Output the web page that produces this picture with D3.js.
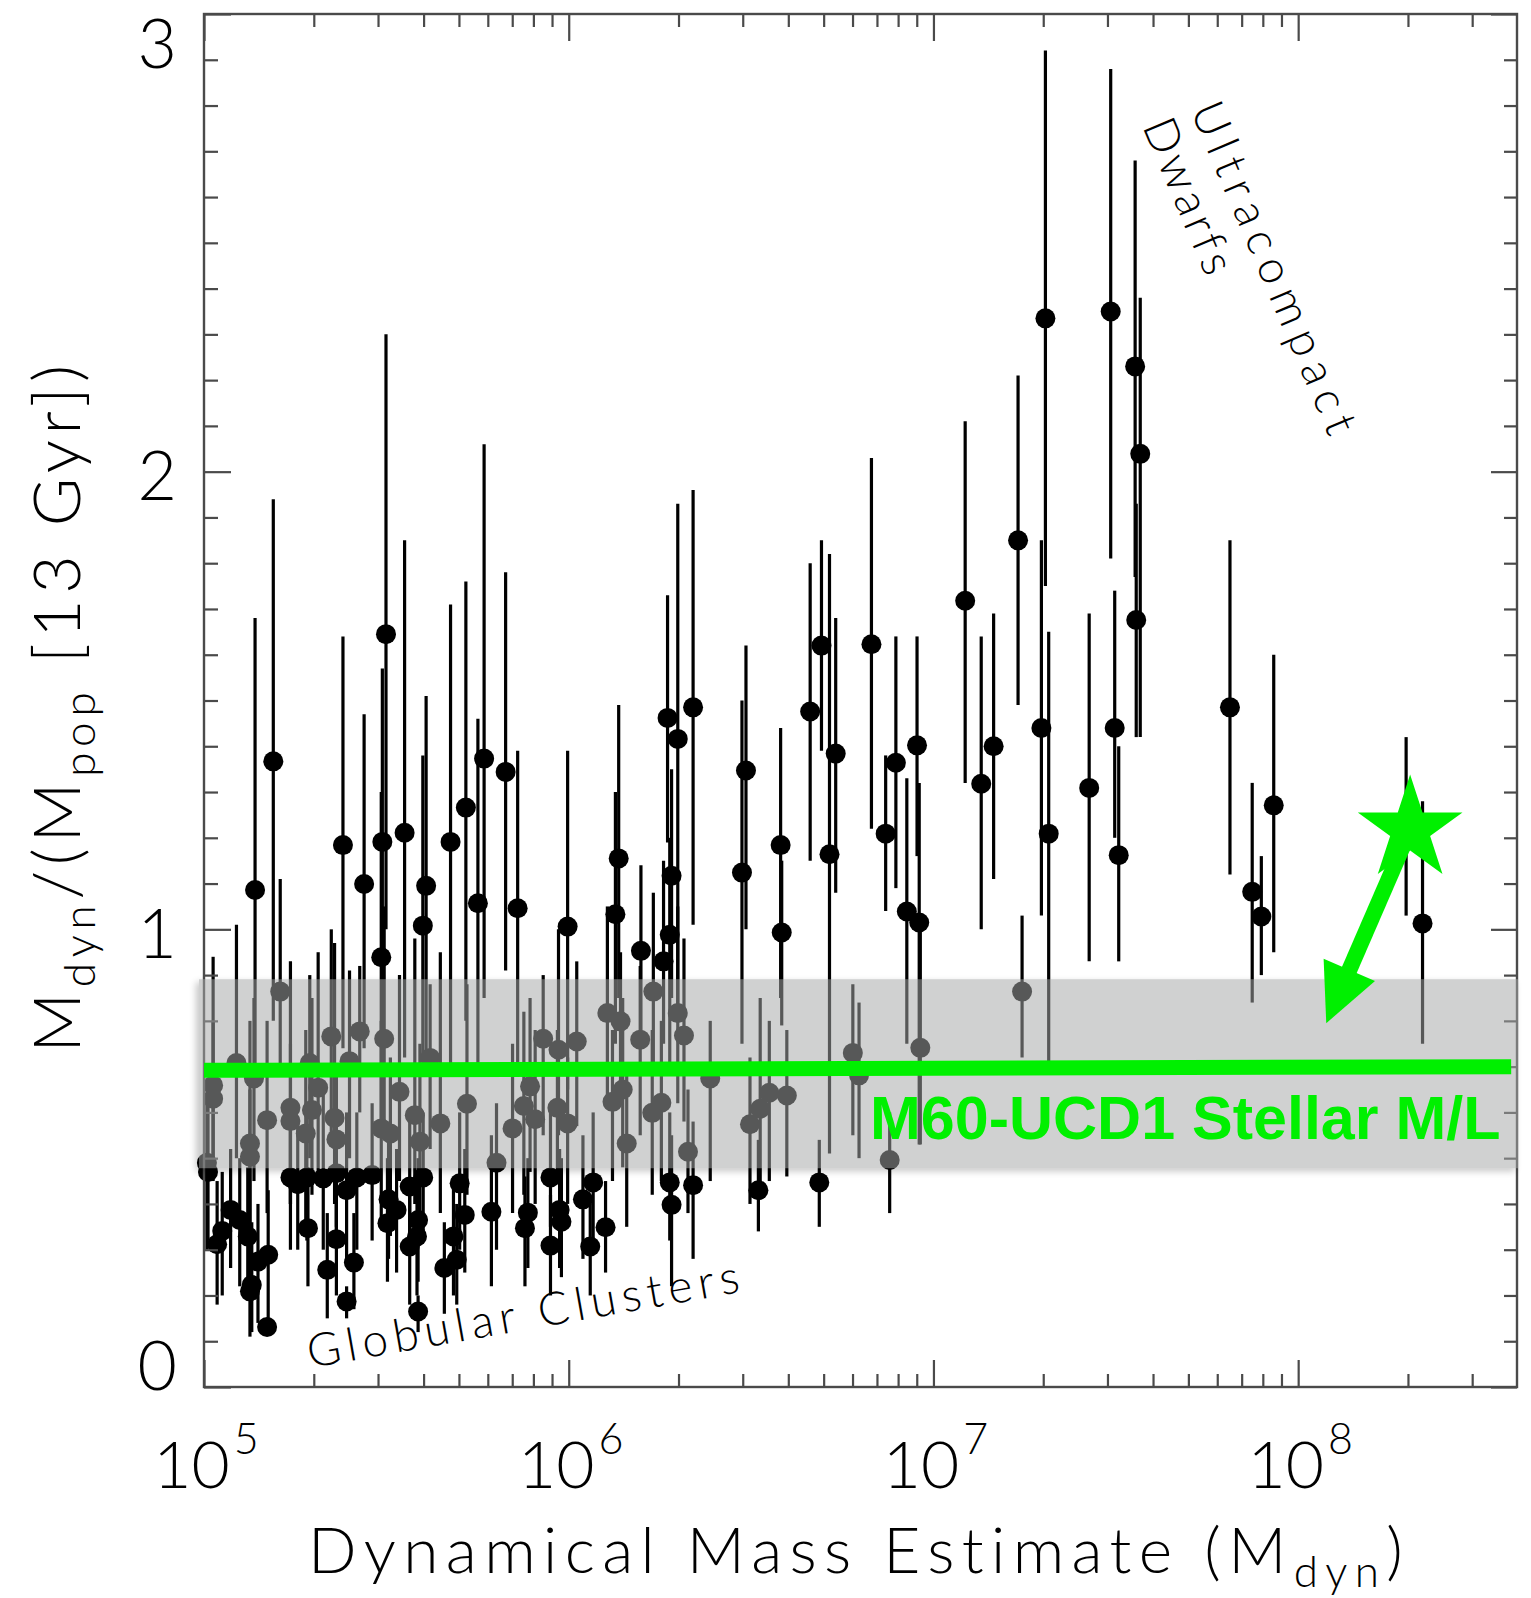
<!DOCTYPE html>
<html>
<head>
<meta charset="utf-8">
<script src="https://cdn.jsdelivr.net/npm/d3@7"></script>
<style>
  body { margin: 0; background: #fff; }
  svg { display: block; }
  .thin { font-family: Lato, "Open Sans", "DejaVu Sans", sans-serif; font-weight: 300; fill: #000; }
</style>
</head>
<body>
<svg id="chart" width="1531" height="1598"></svg>
<script>
// ---- data: log10 dynamical mass, Mdyn/Mpop ratio, and error-bar bounds ----
// objects with ratios well above the population band
const highLogMass = [5.14,5.19,5.381,5.439,5.499,5.489,5.486,5.55,5.609,5.60,5.676,5.718,5.768,5.751,5.827,5.86,5.997,6.137,6.128,6.198,
  6.26,6.271,6.299,6.341,6.282,6.277,6.486,6.475,6.581,6.584,6.662,6.693,6.732,6.715,6.83,6.897,6.869,6.955,6.927,6.961,
  7.087,7.131,7.165,7.232,7.307,7.296,7.316,7.427,7.486,7.497,7.508,7.553,7.567,7.556,7.813,7.874,7.899,7.933,8.341,8.296];
const highRatio = [1.086,1.367,1.184,1.099,1.645,1.191,0.939,1.211,1.095,1.008,1.191,1.266,1.373,1.057,1.344,1.046,1.006,1.155,1.033,0.953,
  0.930,1.462,1.416,1.485,1.117,0.988,1.347,1.124,1.184,0.993,1.476,1.62,1.384,1.164,1.623,1.364,1.209,1.402,1.039,1.015,
  1.718,1.318,1.40,1.85,2.335,1.44,1.209,1.309,2.35,1.44,1.162,2.23,2.039,1.676,1.485,1.082,1.028,1.271,1.013,1.229];
const highLow = [0.69,0.80,0.74,0.74,1.00,0.75,0.55,0.72,0.70,0.72,0.70,0.80,0.85,0.70,0.91,0.70,0.65,0.85,0.75,0.75,
  0.75,1.19,0.80,1.01,0.85,0.70,1.00,0.75,0.85,0.79,1.15,1.39,1.08,0.51,1.22,1.09,1.04,1.16,0.75,0.53,
  1.32,1.00,1.11,1.49,1.75,1.03,0.71,0.93,1.81,1.20,0.93,1.77,1.42,1.42,1.12,0.84,0.90,0.95,0.75,1.03];
const highHigh = [1.68,1.94,1.64,1.47,2.30,1.57,1.30,1.85,1.51,1.38,1.71,1.76,2.06,1.46,1.78,1.39,1.39,1.49,1.30,1.14,
  1.15,1.73,1.93,1.96,1.35,1.20,1.62,1.50,1.44,1.15,1.80,1.85,1.68,1.82,2.03,1.64,1.38,1.64,1.33,1.32,
  2.11,1.64,1.69,2.21,2.92,1.85,1.65,1.69,2.88,1.74,1.40,2.68,2.38,1.93,1.85,1.32,1.16,1.60,1.28,1.42];

// objects whose ratios fall inside the population band
const midLogMass = [5.209,5.349,5.427,5.494,5.089,5.025,5.025,5.137,5.173,5.237,5.237,5.296,5.313,5.279,5.358,5.399,5.126,5.126,5.536,5.486,
  5.511,5.578,5.648,5.592,5.620,5.721,5.802,5.930,5.972,6.022,6.106,6.142,6.232,6.196,6.299,6.316,6.388,5.846,5.877,5.894,
  5.908,5.969,5.997,6.120,6.148,6.159,6.229,6.254,6.327,5.008,6.497,6.525,6.550,6.598,6.779,6.796,6.964,6.880,7.243,5.290,5.363];
const midRatio = [0.864,0.766,0.777,0.761,0.708,0.659,0.630,0.674,0.583,0.610,0.581,0.605,0.654,0.554,0.588,0.712,0.532,0.503,0.645,0.565,
  0.554,0.594,0.576,0.536,0.719,0.619,0.490,0.761,0.737,0.755,0.817,0.799,0.864,0.759,0.817,0.768,0.674,0.565,0.614,0.657,
  0.585,0.610,0.576,0.623,0.650,0.532,0.599,0.621,0.514,0.490,0.574,0.608,0.643,0.637,0.730,0.681,0.741,0.496,0.864,0.708,0.541];
const midLow = [0.70,0.55,0.60,0.55,0.50,0.50,0.45,0.45,0.38,0.40,0.40,0.42,0.45,0.33,0.40,0.50,0.30,0.28,0.45,0.35,
  0.33,0.40,0.38,0.33,0.52,0.42,0.30,0.55,0.55,0.57,0.62,0.62,0.70,0.55,0.62,0.58,0.45,0.38,0.42,0.47,
  0.40,0.45,0.40,0.45,0.48,0.35,0.42,0.45,0.38,0.30,0.40,0.42,0.45,0.46,0.55,0.50,0.53,0.38,0.72,0.50,0.35];
const midHigh = [1.11,1.00,0.92,1.05,1.01,0.94,0.80,0.85,0.80,0.93,0.75,0.85,0.95,0.78,0.97,0.91,0.80,0.65,0.90,0.80,
  0.72,0.98,0.95,0.75,0.88,0.88,0.62,0.90,1.00,0.93,1.05,0.95,1.08,0.92,1.05,0.98,0.80,0.75,0.82,0.85,
  0.78,0.78,0.72,0.78,0.85,0.70,0.78,0.80,0.65,0.62,0.72,0.85,0.80,0.78,0.88,0.84,1.02,0.60,1.03,0.90,0.70];

// low-ratio globular clusters below the band
const lowLogMass = [5.073,5.098,5.050,5.036,5.120,5.176,5.148,5.131,5.126,5.173,5.237,5.282,5.327,5.363,5.419,5.461,5.285,5.338,5.391,5.363,
  5.411,5.506,5.503,5.528,5.564,5.601,5.587,5.584,5.564,5.659,5.693,5.587,5.701,5.715,5.684,5.788,5.888,5.880,5.950,5.975,
  5.980,5.950,6.039,6.067,6.101,6.059,6.277,6.282,6.341,6.520,6.687,5.257,5.391,5.011];
const lowRatio = [0.387,0.365,0.341,0.312,0.329,0.289,0.274,0.223,0.209,0.131,0.458,0.458,0.456,0.467,0.458,0.463,0.347,0.256,0.187,0.323,
  0.272,0.410,0.358,0.387,0.438,0.458,0.365,0.329,0.307,0.260,0.278,0.165,0.445,0.376,0.329,0.383,0.381,0.347,0.458,0.387,
  0.361,0.309,0.410,0.447,0.349,0.307,0.447,0.398,0.441,0.430,0.447,0.443,0.430,0.470];
const lowLow = [0.26,0.22,0.20,0.18,0.20,0.15,0.14,0.12,0.11,0.131,0.30,0.32,0.30,0.33,0.30,0.32,0.22,0.15,0.15,0.20,
  0.17,0.28,0.23,0.25,0.30,0.33,0.23,0.20,0.18,0.16,0.18,0.12,0.30,0.25,0.20,0.22,0.26,0.22,0.35,0.26,
  0.24,0.20,0.28,0.30,0.25,0.20,0.32,0.22,0.28,0.34,0.35,0.30,0.28,0.32];
const lowHigh = [0.52,0.50,0.47,0.45,0.48,0.43,0.40,0.36,0.34,0.131,0.62,0.60,0.65,0.62,0.60,0.62,0.48,0.38,0.22,0.45,
  0.38,0.55,0.50,0.52,0.58,0.60,0.50,0.46,0.42,0.36,0.40,0.20,0.60,0.52,0.45,0.55,0.50,0.46,0.60,0.52,
  0.50,0.42,0.55,0.60,0.45,0.40,0.60,0.55,0.58,0.54,0.54,0.58,0.60,0.62];

// population band and M60-UCD1
const bandRange = [0.478, 0.891];
const stellarLineLogMass = [5.0, 8.584];
const stellarLineRatio = [0.692, 0.700];
const starLogMass = 8.307, starRatio = 1.218;
const arrowTipLogMass = 8.077, arrowTipRatio = 0.795;

// axis ticks
const xMajor = [1e5, 1e6, 1e7, 1e8];
const xLabelExp = ["5", "6", "7", "8"];
const yMajor = [0, 1, 2, 3];

// ---- layout ----
const GREEN = "#00f000";
const svg = d3.select("#chart");
const x = d3.scaleLog().domain([1e5, Math.pow(10, 8.6)]).range([204, 1517]);
const y = d3.scaleLinear().domain([0, 3]).range([1387, 14]);
const [x0, x1] = x.range(), [y0, y1] = y.range();

const xMinor = [];
for (let k = 5; k <= 8; k++) for (let m = 2; m <= 9; m++) {
  const v = m * Math.pow(10, k);
  if (v < x.domain()[1]) xMinor.push(v);
}
const yMinor = d3.range(0, 30).map(i => i / 10).filter(v => !yMajor.includes(v));

// ---- points with error bars ----
function rows(lm, r, lo, hi) {
  return lm.map((m, i) => ({ m: Math.pow(10, m), r: r[i], lo: lo[i], hi: hi[i] }));
}
const allPoints = [].concat(
  rows(highLogMass, highRatio, highLow, highHigh),
  rows(midLogMass, midRatio, midLow, midHigh),
  rows(lowLogMass, lowRatio, lowLow, lowHigh)
);

const pts = svg.append("g");
pts.selectAll("line").data(allPoints).join("line")
  .attr("x1", d => x(d.m)).attr("x2", d => x(d.m))
  .attr("y1", d => y(d.lo)).attr("y2", d => y(d.hi))
  .attr("stroke", "#000").attr("stroke-width", 3.2);
pts.selectAll("circle").data(allPoints).join("circle")
  .attr("cx", d => x(d.m)).attr("cy", d => y(d.r)).attr("r", 10)
  .attr("fill", "#000");

// ---- frame and ticks ----
const axes = svg.append("g").attr("stroke", "#4a4a4a");
function tickAxis(gen, tx, ty, values, size) {
  const g = axes.append("g").attr("transform", `translate(${tx},${ty})`)
    .call(gen.tickValues(values).tickSize(size).tickFormat(""));
  g.select(".domain").remove();
  g.selectAll("line").attr("stroke", "#4a4a4a").attr("stroke-width", 2.2);
}
tickAxis(d3.axisBottom(x), 0, y0, xMajor, -27);
tickAxis(d3.axisBottom(x), 0, y0, xMinor, -13);
tickAxis(d3.axisTop(x), 0, y1, xMajor, -27);
tickAxis(d3.axisTop(x), 0, y1, xMinor, -13);
tickAxis(d3.axisLeft(y), x0, 0, yMajor, -27);
tickAxis(d3.axisLeft(y), x0, 0, yMinor, -14);
tickAxis(d3.axisRight(y), x1, 0, yMajor, -26);
tickAxis(d3.axisRight(y), x1, 0, yMinor, -13);
axes.append("rect").attr("x", x0).attr("y", y1).attr("width", x1 - x0).attr("height", y0 - y1)
  .attr("fill", "none").attr("stroke-width", 2.4);

// ---- population band with soft shadow ----
const defs = svg.append("defs");
defs.append("filter").attr("id", "blur").attr("x", "-5%").attr("y", "-50%").attr("width", "110%").attr("height", "200%")
  .append("feGaussianBlur").attr("stdDeviation", 3.5);
const bandTop = y(bandRange[1]), bandBot = y(bandRange[0]);
const bx0 = x0 - 5, bx1 = x1 + 1;
const mask = defs.append("mask").attr("id", "outsideBand");
mask.append("rect").attr("x", 0).attr("y", 0).attr("width", 1531).attr("height", 1598).attr("fill", "#fff");
mask.append("rect").attr("x", bx0).attr("y", bandTop).attr("width", bx1 - bx0).attr("height", bandBot - bandTop).attr("fill", "#000");
svg.append("g").attr("mask", "url(#outsideBand)")
  .append("rect").attr("x", bx0 - 3).attr("y", bandTop + 3).attr("width", bx1 - bx0).attr("height", bandBot - bandTop)
  .attr("fill", "#000").attr("opacity", 0.22).attr("filter", "url(#blur)");
svg.append("rect").attr("x", bx0).attr("y", bandTop).attr("width", bx1 - bx0).attr("height", bandBot - bandTop)
  .attr("fill", "rgb(165,167,167)").attr("fill-opacity", 0.527);

// ---- stellar M/L line ----
svg.append("path")
  .datum(stellarLineLogMass.map((m, i) => [Math.pow(10, m), stellarLineRatio[i]]))
  .attr("d", d3.line().x(d => x(d[0])).y(d => y(d[1])))
  .attr("stroke", GREEN).attr("stroke-width", 15).attr("fill", "none");

svg.append("text").text("M60-UCD1 Stellar M/L")
  .attr("x", 870).attr("y", 1139)
  .attr("font-family", "'Liberation Sans', Arial, sans-serif").attr("font-weight", "bold")
  .attr("font-size", 61).attr("fill", GREEN);

// ---- M60-UCD1 star and arrow ----
const sx = x(Math.pow(10, starLogMass)), sy = y(starRatio);
const tx = x(Math.pow(10, arrowTipLogMass)), ty = y(arrowTipRatio);
const len = Math.hypot(tx - sx, ty - sy);
const ux = (tx - sx) / len, uy = (ty - sy) / len;
const headLen = 58, headHalf = 28;
const bxp = tx - ux * headLen, byp = ty - uy * headLen;
svg.append("line").attr("x1", sx).attr("y1", sy).attr("x2", bxp + ux * 4).attr("y2", byp + uy * 4)
  .attr("stroke", GREEN).attr("stroke-width", 16);
svg.append("path")
  .attr("d", `M${tx},${ty}L${bxp - uy * headHalf},${byp + ux * headHalf}L${bxp + uy * headHalf},${byp - ux * headHalf}Z`)
  .attr("fill", GREEN);
svg.append("path").attr("d", d3.symbol(d3.symbolStar, 3400)())
  .attr("transform", `translate(${sx},${sy})`).attr("fill", GREEN);

// ---- text helpers ----
function fitTo(sel, target) {
  const w = sel.node().getComputedTextLength();
  const n = sel.text().length;
  sel.attr("letter-spacing", (target - w) / (n - 1));
}

// y tick labels (end labels kept inside the frame's height)
yMajor.forEach(v => {
  const yy = Math.max(y1 + 30, Math.min(y0 - 21, y(v) + 4));
  svg.append("text").attr("class", "thin").text(v)
    .attr("x", 177).attr("y", yy).attr("dy", "0.36em")
    .attr("text-anchor", "end").attr("font-size", 68);
});

// x tick labels with superscript exponents
xMajor.forEach((v, i) => {
  const t = svg.append("text").attr("class", "thin")
    .attr("x", x(v) + 2).attr("y", 1488).attr("text-anchor", "middle").attr("font-size", 66);
  t.append("tspan").text("10");
  t.append("tspan").text(xLabelExp[i]).attr("font-size", 43).attr("dy", -34).attr("dx", 4);
});

// x axis title
const xt = svg.append("text").attr("class", "thin")
  .attr("x", 859).attr("y", 1573).attr("text-anchor", "middle").attr("font-size", 64);
xt.append("tspan").text("Dynamical Mass Estimate (M");
xt.append("tspan").text("dyn").attr("font-size", 44).attr("dy", 14);
xt.append("tspan").text(")").attr("dy", -14);
fitTo(xt, 1096);

// y axis title
const yt = svg.append("text").attr("class", "thin")
  .attr("transform", "translate(80,706) rotate(-90)").attr("text-anchor", "middle").attr("font-size", 66);
yt.append("tspan").text("M");
yt.append("tspan").text("dyn").attr("font-size", 44).attr("dy", 15);
yt.append("tspan").text("/(M").attr("dy", -15);
yt.append("tspan").text("pop").attr("font-size", 44).attr("dy", 15);
yt.append("tspan").text(" [13 Gyr])").attr("dy", -15);
fitTo(yt, 688);

// group annotations
const uc = svg.append("text").attr("class", "thin").text("Ultracompact")
  .attr("transform", "translate(1190,110) rotate(67)").attr("font-size", 46);
fitTo(uc, 356);
const dw = svg.append("text").attr("class", "thin").text("Dwarfs")
  .attr("transform", "translate(1142,126) rotate(67)").attr("font-size", 46);
fitTo(dw, 165);
const gc = svg.append("text").attr("class", "thin").text("Globular Clusters")
  .attr("transform", "translate(310,1368) rotate(-10)").attr("font-size", 46);
fitTo(gc, 438);
</script>
</body>
</html>
